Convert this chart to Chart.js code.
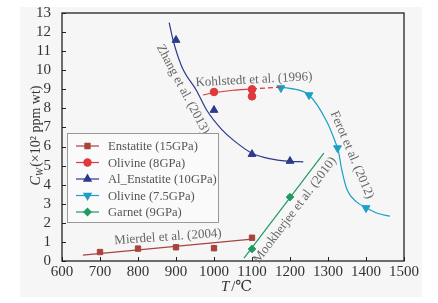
<html>
<head>
    <title>Water content chart</title>
    <script src="https://cdn.jsdelivr.net/npm/chart.js"></script>
    <style>
        body { margin: 0; background: #fff; }
        #wrap { width: 438px; height: 303px; }
    </style>
</head>
<body>
    <div id="wrap"><canvas id="waterChart" width="438" height="303"></canvas></div>

    <script>
        const enstatiteT = [700, 800, 900, 1000, 1100];
        const enstatiteCw = [0.47, 0.65, 0.72, 0.67, 1.22];
        const olivine8T = [1000, 1100, 1100];
        const olivine8Cw = [8.86, 9.0, 8.63];
        const alEnstatiteT = [900, 1000, 1100, 1200];
        const alEnstatiteCw = [11.58, 7.91, 5.6, 5.24];
        const olivine75T = [1176, 1250, 1325, 1400];
        const olivine75Cw = [9.07, 8.7, 5.92, 2.78];
        const garnetT = [1100, 1200];
        const garnetCw = [0.63, 3.35];

        // fitted curves as drawn in the figure
        const enstatiteFitT = [655, 1100];
        const enstatiteFitCw = [0.31, 1.15];
        const olivine8FitT = [971, 1000, 1050, 1100];
        const olivine8FitCw = [8.7, 8.82, 8.95, 9.02];
        const olivine8ExtT = [1100, 1180];
        const olivine8ExtCw = [9.02, 9.12];
        const alFitT = [882, 892, 915, 955, 981, 1020, 1050, 1100, 1150, 1200, 1235];
        const alFitCw = [12.5, 11.6, 10.2, 8.9, 7.9, 6.9, 6.35, 5.65, 5.35, 5.22, 5.2];
        const ol75FitT = [1166, 1200, 1250, 1297, 1318, 1328, 1336, 1350, 1375, 1400, 1430, 1463];
        const ol75FitCw = [9.12, 9.05, 8.7, 7.3, 6.3, 5.7, 4.8, 3.75, 3.1, 2.8, 2.5, 2.35];
        const garnetFitT = [1079, 1289];
        const garnetFitCw = [0.15, 5.66];

        const xTicks = [600, 700, 800, 900, 1000, 1100, 1200, 1300, 1400, 1500];
        const yTicks = [0, 1, 2, 3, 4, 5, 6, 7, 8, 9, 10, 11, 12, 13];

        const seriesNames = ['Enstatite (15GPa)', 'Olivine (8GPa)', 'Al_Enstatite (10GPa)', 'Olivine (7.5GPa)', 'Garnet (9GPa)'];
        const notes = [
            { text: 'Zhang et al. (2013)', x: 918, y: 9.0, rot: 62 },
            { text: 'Kohlstedt et al. (1996)', x: 1105, y: 9.5, rot: -3 },
            { text: 'Ferot et al. (2012)', x: 1363, y: 5.56, rot: 67 },
            { text: 'Mookherjee et al. (2010)', x: 1213, y: 2.67, rot: -53 },
            { text: 'Mierdel et al. (2004)', x: 879, y: 1.26, rot: -4 }
        ];

        const colors = ['#a8433d', '#e0383e', '#2c3a8c', '#1b9fc6', '#1f9a62'];
        const styles = ['rect', 'circle', 'triangle', 'triangle', 'rectRot'];
        const rotations = [0, 0, 0, 180, 0];
        const FONT = '"Liberation Serif", "DejaVu Serif", serif';

        function pts(xs, ys) {
            return xs.map((x, i) => ({ x: x, y: ys[i] }));
        }

        function lineSet(xs, ys, color, dash, tension) {
            return {
                data: pts(xs, ys),
                showLine: true,
                borderColor: color,
                borderWidth: 1.2,
                borderDash: dash || [],
                pointRadius: 0,
                tension: tension || 0,
                cubicInterpolationMode: tension ? 'monotone' : 'default'
            };
        }

        function pointSet(xs, ys, i) {
            return {
                label: seriesNames[i],
                data: pts(xs, ys),
                showLine: false,
                backgroundColor: colors[i],
                borderColor: colors[i],
                pointStyle: styles[i],
                rotation: rotations[i],
                pointRadius: i == 2 || i == 3 ? 4.5 : 3.8
            };
        }

        const datasets = [
            lineSet(enstatiteFitT, enstatiteFitCw, colors[0]),
            lineSet(olivine8FitT, olivine8FitCw, colors[1], null, 0.4),
            lineSet(olivine8ExtT, olivine8ExtCw, colors[1], [5, 3]),
            lineSet(alFitT, alFitCw, colors[2], null, 0.4),
            lineSet(ol75FitT, ol75FitCw, colors[3], null, 0.4),
            lineSet(garnetFitT, garnetFitCw, colors[4]),
            pointSet(enstatiteT, enstatiteCw, 0),
            pointSet(olivine8T, olivine8Cw, 1),
            pointSet(alEnstatiteT, alEnstatiteCw, 2),
            pointSet(olivine75T, olivine75Cw, 3),
            pointSet(garnetT, garnetCw, 4)
        ];

        // grey panel, frame, inward ticks, notes, legend and axis titles
        const decorations = {
            id: 'decorations',
            beforeDraw(chart) {
                const c = chart.ctx;
                c.save();
                c.fillStyle = '#ffffff';
                c.fillRect(0, 0, chart.width, chart.height);
                c.fillStyle = '#f6f6f6';
                c.fillRect(20, 7, 402, 290);
                c.restore();
            },
            afterDraw(chart) {
                const c = chart.ctx;
                const a = chart.chartArea;
                const xs = chart.scales.x, ys = chart.scales.y;
                c.save();
                c.strokeStyle = '#222';
                c.lineWidth = 1.3;
                c.strokeRect(a.left, a.top, a.right - a.left, a.bottom - a.top);
                c.lineWidth = 1;
                yTicks.forEach(v => {
                    const p = Math.round(ys.getPixelForValue(v)) + 0.5;
                    c.beginPath(); c.moveTo(a.left, p); c.lineTo(a.left + 4, p); c.stroke();
                });
                xTicks.forEach(v => {
                    const p = Math.round(xs.getPixelForValue(v)) + 0.5;
                    c.beginPath(); c.moveTo(p, a.bottom); c.lineTo(p, a.bottom - 4); c.stroke();
                });

                // curve labels
                c.fillStyle = '#666';
                c.font = '13px ' + FONT;
                c.textAlign = 'center';
                c.textBaseline = 'middle';
                notes.forEach(n => {
                    c.save();
                    c.translate(xs.getPixelForValue(n.x), ys.getPixelForValue(n.y));
                    c.rotate(n.rot * Math.PI / 180);
                    c.fillText(n.text, 0, 0);
                    c.restore();
                });

                // legend box
                c.fillStyle = '#fafafa';
                c.fillRect(67, 133, 151, 89);
                c.strokeStyle = '#999';
                c.strokeRect(67.5, 133.5, 151, 89);
                c.textAlign = 'left';
                seriesNames.forEach((name, i) => {
                    const yy = 146 + i * 16.5;
                    c.strokeStyle = colors[i];
                    c.lineWidth = 1.2;
                    c.beginPath(); c.moveTo(76, yy); c.lineTo(99, yy); c.stroke();
                    Chart.helpers.drawPoint(c, {
                        pointStyle: styles[i], rotation: rotations[i],
                        radius: i == 2 || i == 3 ? 4.2 : 3.6, borderWidth: 1
                    }, 87.5, yy);
                    c.fillStyle = colors[i];
                    c.fill();
                    c.fillStyle = '#555';
                    c.font = '12.6px ' + FONT;
                    c.fillText(name, 108, yy + 1);
                });

                // axis titles
                c.fillStyle = '#333';
                c.textBaseline = 'middle';
                c.font = 'italic 15px ' + FONT;
                c.textAlign = 'left';
                const tx = 221, ty = 287;
                c.fillText('T', tx, ty);
                c.font = '15px ' + FONT;
                c.fillText('/℃', tx + c.measureText('T').width + 1, ty);

                c.save();
                c.translate(36, 136);
                c.rotate(-Math.PI / 2);
                const rest = '(×10² ppm wt)';
                c.font = 'italic 14px ' + FONT;
                const wC = c.measureText('C').width;
                c.font = 'italic 10px ' + FONT;
                const wW = c.measureText('W').width;
                c.font = '14px ' + FONT;
                const wR = c.measureText(rest).width;
                let x0 = -(wC + wW + wR) / 2;
                c.font = 'italic 14px ' + FONT;
                c.fillText('C', x0, 0);
                c.font = 'italic 10px ' + FONT;
                c.fillText('W', x0 + wC, 4);
                c.font = '14px ' + FONT;
                c.fillText(rest, x0 + wC + wW + 1, 0);
                c.restore();
                c.restore();
            }
        };

        new Chart(document.getElementById('waterChart'), {
            type: 'scatter',
            data: { datasets: datasets },
            options: {
                responsive: false,
                animation: false,
                layout: { padding: { left: 0, right: 34, top: 13, bottom: 0 } },
                plugins: {
                    legend: { display: false },
                    tooltip: { enabled: false }
                },
                scales: {
                    x: {
                        type: 'linear',
                        min: 600,
                        max: 1500,
                        afterBuildTicks: s => { s.ticks = xTicks.map(v => ({ value: v })); },
                        afterFit: s => { s.height = 42; },
                        grid: { display: false },
                        border: { display: false },
                        ticks: {
                            color: '#333', font: { family: FONT, size: 15 }, padding: -6,
                            maxRotation: 0, autoSkip: false, callback: v => String(v)
                        }
                    },
                    y: {
                        type: 'linear',
                        min: 0,
                        max: 13,
                        afterBuildTicks: s => { s.ticks = yTicks.map(v => ({ value: v })); },
                        afterFit: s => { s.width = 62; },
                        grid: { display: false },
                        border: { display: false },
                        ticks: {
                            color: '#333', font: { family: FONT, size: 15 }, padding: 3,
                            autoSkip: false, callback: v => String(v)
                        }
                    }
                }
            },
            plugins: [decorations]
        });
    </script>
</body>
</html>
